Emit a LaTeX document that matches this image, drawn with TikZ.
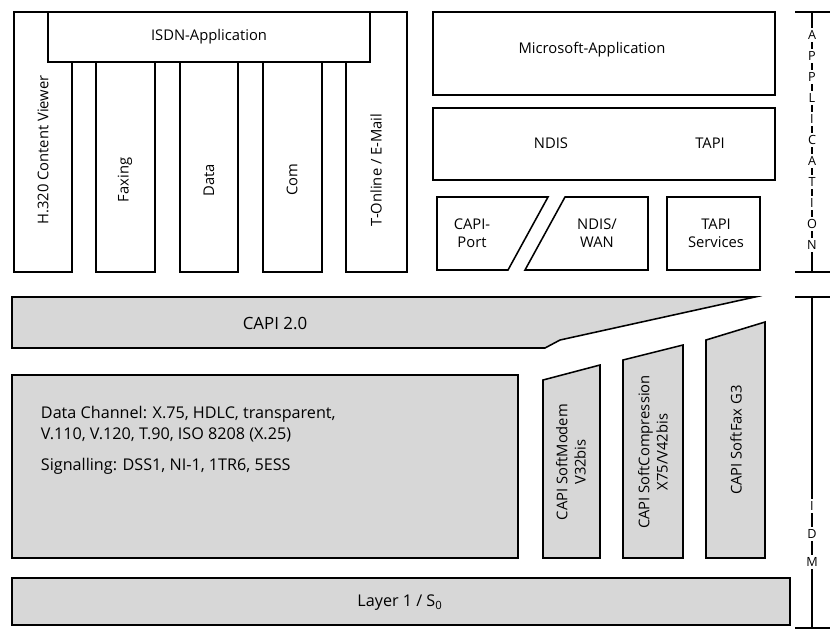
\documentclass[tikz,border=0pt]{standalone}
\usepackage{fontspec}
\setmainfont{Open Sans}
\usetikzlibrary{positioning}
\definecolor{idmGray}{RGB}{215,215,215}

\begin{document}
\begin{tikzpicture}[x=0.025cm, y=-0.025cm,
    box/.style={draw, line width=1.1pt, fill=white},
    grey/.style={draw, line width=1.1pt, fill=idmGray},
    lbl/.style={font=\fontsize{10.5}{13}\selectfont, align=center},
    vlbl/.style={lbl, rotate=90},
    tick/.style={line width=0.9pt}
]
    \useasboundingbox (0,0) rectangle (840,634);

    % ISDN side
    \draw[box] (14,12) -- (407,12) -- (407,272) -- (346,272) -- (346,62) -- (72,62) -- (72,272) -- (14,272) -- cycle;
    \node[box, minimum width=322*0.025cm, minimum height=50*0.025cm, inner sep=0pt] (isdn) at (209,37) {};
    \node[lbl] at (isdn) {ISDN-Application};
    \draw[box] (96,62) rectangle (155,272);
    \draw[box] (180,62) rectangle (238,272);
    \draw[box] (263,62) rectangle (322,272);
    \node[vlbl] (h320) at (43,150) {H.320 Content Viewer};
    \node[vlbl] (fax) at (125,180) {Faxing};
    \node[vlbl] (data) at (209,180) {Data};
    \node[vlbl] (com) at (292,180) {Com};
    \node[vlbl] (tonl) at (376,170) {T-Online / E-Mail};

    % Microsoft side
    \draw[box] (433,12) rectangle (775,95);
    \node[lbl] (msapp) at (592,50) {Microsoft-Application};
    \draw[box] (433,108) rectangle (775,180);
    \node[lbl] (ndis) at (551,143) {NDIS};
    \node[lbl] (tapi) at (710,143) {TAPI};
    \draw[box] (437,197) -- (548,197) -- (508,270) -- (437,270) -- cycle;
    \node[lbl] (capiport) at (472,233) {CAPI-\\Port};
    \draw[box] (565,197) -- (648,197) -- (648,270) -- (525,270) -- cycle;
    \node[lbl] (ndiswan) at (597,233) {NDIS/\\WAN};
    \draw[box] (667,197) rectangle (760,270);
    \node[lbl] (tapisrv) at (716,233) {TAPI\\Services};

    % IDM side
    \draw[grey] (12,297) -- (755,297) -- (560,340) -- (545,348) -- (12,348) -- cycle;
    \node[lbl, font=\fontsize{12}{14}\selectfont] (capi) at (275,323) {CAPI 2.0};
    \draw[grey] (12,375) rectangle (518,558);
    \node[lbl, align=left, anchor=west, font=\fontsize{11.5}{15}\selectfont] (chan) at (36,440)
        {Data Channel: X.75, HDLC, transparent,\\V.110, V.120, T.90, ISO 8208 (X.25)\\[7pt]Signalling: DSS1, NI-1, 1TR6, 5ESS};
    \draw[grey] (543,380) -- (600,365) -- (600,558) -- (543,558) -- cycle;
    \node[vlbl] (modem) at (571,462) {CAPI SoftModem\\V32bis};
    \draw[grey] (623,360) -- (683,345) -- (683,558) -- (623,558) -- cycle;
    \node[vlbl] (compr) at (653,452) {CAPI SoftCompression\\X75/V42bis};
    \draw[grey] (706,340) -- (765,322) -- (765,558) -- (706,558) -- cycle;
    \node[vlbl] (sfax) at (736,440) {CAPI SoftFax G3};
    \draw[grey] (12,578) rectangle (790,625);
    \node[lbl, font=\fontsize{11.5}{14}\selectfont] (layer) at (400,603) {Layer 1 / S\textsubscript{0}};

    % Scale
    \draw[tick] (812,12) -- (812,272);
    \draw[tick] (795,12) -- (830,12);
    \draw[tick] (795,272) -- (830,272);
    \draw[tick] (812,297) -- (812,628);
    \draw[tick] (795,297) -- (830,297);
    \draw[tick] (795,628) -- (830,628);
    \foreach \ch [count=\i] in {A,P,P,L,I,C,A,T,I,O,N}
        \node[fill=white, inner sep=1.5pt, font=\fontsize{9}{10}\selectfont] at (812,14+\i*21) {\ch};
    \foreach \ch [count=\i] in {I,D,M}
        \node[fill=white, inner sep=1.5pt, font=\fontsize{9}{10}\selectfont] at (812,478+\i*28) {\ch};
\end{tikzpicture}
\end{document}
